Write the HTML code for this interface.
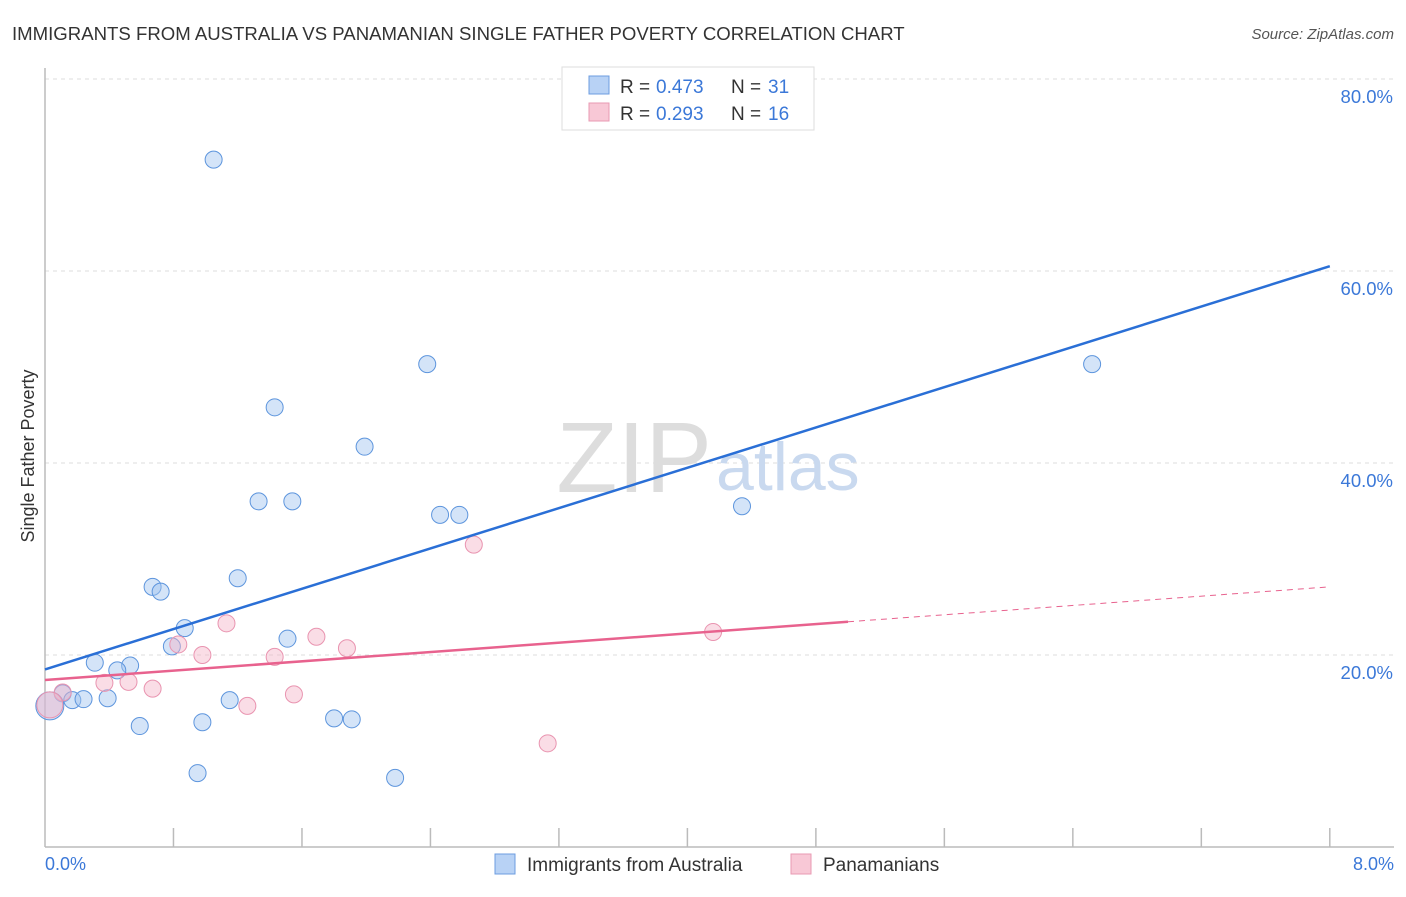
<!DOCTYPE html>
<html><head><meta charset="utf-8"><style>
body{margin:0;background:#fff;font-family:"Liberation Sans",sans-serif}
svg text{font-family:"Liberation Sans",sans-serif}
</style></head><body>
<svg width="1406" height="892" id="chart">
<text x="12" y="40" font-size="18.6" fill="#333">IMMIGRANTS FROM AUSTRALIA VS PANAMANIAN SINGLE FATHER POVERTY CORRELATION CHART</text>
<text x="1394" y="39" font-size="15" fill="#555" font-style="italic" text-anchor="end">Source: ZipAtlas.com</text>
<g id="grid"></g>
<text x="712" y="492" font-size="100" fill="#ddd" text-anchor="end" font-family="Liberation Serif">ZIP</text>
<text x="716" y="490" font-size="68" fill="#c9d9ef">atlas</text>
<line x1="45" y1="68" x2="45" y2="847" stroke="#bbb" stroke-width="1.5"/>
<line x1="45" y1="847" x2="1394" y2="847" stroke="#bbb" stroke-width="1.5"/>
<g id="xticks"></g>
<g id="ylabels"></g>
<text x="45" y="870" font-size="18" fill="#3b78d8">0.0%</text>
<text x="1394" y="870" font-size="18" fill="#3b78d8" text-anchor="end">8.0%</text>
<text transform="translate(34,456) rotate(-90)" font-size="18" fill="#333" text-anchor="middle">Single Father Poverty</text>
<g id="points"></g>
<g id="lines"></g>
<g>
<rect x="562" y="67" width="252" height="63" fill="#fff" stroke="#ddd"/>
<rect x="589" y="76" width="20" height="18" fill="#b8d2f5" stroke="#6c9ce0"/>
<text x="620" y="93" font-size="19" fill="#333">R = </text>
<text x="656" y="93" font-size="19" fill="#3b78d8">0.473</text>
<text x="731" y="93" font-size="19" fill="#333">N = </text>
<text x="768" y="93" font-size="19" fill="#3b78d8">31</text>
<rect x="589" y="103" width="20" height="18" fill="#f8c8d6" stroke="#e89ab3"/>
<text x="620" y="120" font-size="19" fill="#333">R = </text>
<text x="656" y="120" font-size="19" fill="#3b78d8">0.293</text>
<text x="731" y="120" font-size="19" fill="#333">N = </text>
<text x="768" y="120" font-size="19" fill="#3b78d8">16</text>
</g>
<g>
<rect x="495" y="854" width="20" height="20" fill="#b8d2f5" stroke="#6c9ce0"/>
<text x="527" y="871" font-size="19" fill="#333">Immigrants from Australia</text>
<rect x="791" y="854" width="20" height="20" fill="#f8c8d6" stroke="#e89ab3"/>
<text x="823" y="871" font-size="19" fill="#333">Panamanians</text>
</g>
</svg>
<script>
const yTicks=[20,40,60,80];
const blueX=[1.05,2.38,6.52,1.43,1.99,1.33,1.54,2.46,2.58,4.34,1.20,0.67,0.72,0.87,0.79,1.51,0.31,0.53,0.45,0.11,0.17,0.24,0.39,0.03,1.15,0.59,0.98,1.80,1.91,0.95,2.18];
const blueY=[71.6,50.3,50.3,45.8,41.7,36.0,36.0,34.6,34.6,35.5,28.0,27.1,26.6,22.8,20.9,21.7,19.2,18.9,18.4,16.0,15.3,15.4,15.5,14.7,15.3,12.6,13.0,13.4,13.3,7.7,7.2];
const pinkX=[2.67,4.16,1.13,1.69,0.83,0.98,1.88,1.43,0.37,0.52,0.67,0.11,1.55,1.26,3.13,0.03];
const pinkY=[31.5,22.4,23.3,21.9,21.1,20.0,20.7,19.8,17.1,17.2,16.5,16.1,15.9,14.7,10.8,14.8];
const blueTrend=[18.5,60.5];
const pinkTrend=[17.4,27.1];
const pinkSolidEnd=5.0;
const NS="http://www.w3.org/2000/svg";
const sx=v=>45+v*160.6, sy=v=>847-v*9.6;
function mk(tag,attrs,parent){const e=document.createElementNS(NS,tag);for(const k in attrs)e.setAttribute(k,attrs[k]);document.getElementById(parent).appendChild(e);return e;}
yTicks.forEach(t=>{
 const g=mk('line',{x1:45,x2:1394,y1:sy(t),y2:sy(t),stroke:'#ddd','stroke-dasharray':'4,4'},'grid');
 
 
 const l=mk('text',{x:1393,y:sy(t)+24,'font-size':18.5,fill:'#3b78d8','text-anchor':'end'},'ylabels');
 l.textContent=t.toFixed(1)+'%';
 
 
});
for(let i=1;i<=10;i++){
 const t=mk('line',{x1:sx(i*0.8),x2:sx(i*0.8),y1:828,y2:847,stroke:'#bbb','stroke-width':1.5},'xticks');
 
 
}
blueX.forEach((x,i)=>{
 const big=i===23;
 const c=mk('circle',{cx:sx(x),cy:sy(blueY[i]),r:big?14:8.5,fill:'rgba(160,196,240,0.45)',stroke:'#5d95dd','stroke-width':1},'points');
 
 
});
pinkX.forEach((x,i)=>{
 const big=i===15;
 const c=mk('circle',{cx:sx(x),cy:sy(pinkY[i]),r:big?13:8.5,fill:'rgba(245,180,200,0.45)',stroke:'#e994b0','stroke-width':1},'points');
 
 
});
const bl=mk('line',{x1:sx(0),y1:sy(blueTrend[0]),x2:sx(8),y2:sy(blueTrend[1]),stroke:'#2a6fd6','stroke-width':2.5},'lines');


const pAt=x=>pinkTrend[0]+(pinkTrend[1]-pinkTrend[0])*x/8;
const pl=mk('line',{x1:sx(0),y1:sy(pAt(0)),x2:sx(pinkSolidEnd),y2:sy(pAt(pinkSolidEnd)),stroke:'#e8628e','stroke-width':2.5},'lines');


const pd=mk('line',{x1:sx(pinkSolidEnd),y1:sy(pAt(pinkSolidEnd)),x2:sx(8),y2:sy(pAt(8)),stroke:'#e8628e','stroke-width':1,'stroke-dasharray':'6,5'},'lines');


</script>
</body></html>
